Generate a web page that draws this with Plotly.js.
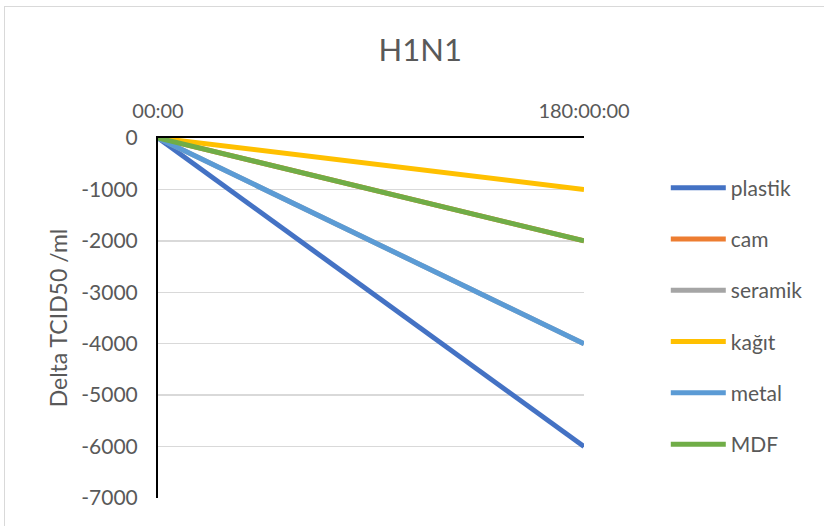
<!DOCTYPE html>
<html>
<head>
<meta charset="utf-8">
<script src="https://cdn.plot.ly/plotly-3.0.1.min.js"></script>
<style>
  html, body { margin: 0; padding: 0; background: #fff; overflow: hidden; }
  #frame { position: absolute; left: 4px; top: 6px; width: 900px; height: 600px; border: 1.5px solid #D9D9D9; box-sizing: border-box; }
  #chart { position: absolute; left: 0; top: 0; width: 824px; height: 526px; }
</style>
</head>
<body>
<div id="frame"></div>
<div id="chart"></div>
<script>
const categories = ["00:00", "180:00:00"];
const seriesNames = ["plastik", "cam", "seramik", "kağıt", "metal", "MDF"];
const plastik = [0, -6000];
const cam = [0, -2000];
const seramik = [0, -4000];
const kagit = [0, -1000];
const metal = [0, -4000];
const MDF = [0, -2000];
const seriesValues = [plastik, cam, seramik, kagit, metal, MDF];
const colors = ["#4472C4", "#ED7D31", "#A5A5A5", "#FFC000", "#5B9BD5", "#70AD47"];
const yTicks = [0, -1000, -2000, -3000, -4000, -5000, -6000, -7000];

const font = "Lato, 'Open Sans', sans-serif";
const textColor = "#595959";

const traces = seriesNames.map((name, i) => ({
  type: "scatter",
  mode: "lines",
  name: name,
  x: categories,
  y: seriesValues[i],
  legendgroup: "g" + i,
  line: { color: colors[i], width: 5 },
  hoverinfo: "skip"
}));

const layout = {
  width: 824,
  height: 526,
  paper_bgcolor: "rgba(0,0,0,0)",
  plot_bgcolor: "rgba(0,0,0,0)",
  margin: { l: 158, r: 240, t: 138, b: 28, pad: 0 },
  title: {
    text: "H1N1",
    font: { family: font, size: 31, color: textColor },
    x: 0.51, xanchor: "center",
    y: 0.905, yanchor: "middle"
  },
  xaxis: {
    type: "category",
    side: "top",
    range: [0, 1],
    showgrid: false,
    zeroline: false,
    showline: true,
    linecolor: "#000",
    linewidth: 2,
    ticks: "",
    tickfont: { family: font, size: 20, color: textColor },
    ticklabelstandoff: 10,
    fixedrange: true
  },
  yaxis: {
    range: [-7000, 0],
    tickvals: yTicks,
    ticktext: yTicks.map(String),
    showgrid: true,
    gridcolor: "#D9D9D9",
    gridwidth: 1.5,
    zeroline: false,
    showline: true,
    linecolor: "#000",
    linewidth: 2,
    ticks: "",
    tickfont: { family: font, size: 21, color: textColor },
    ticklabelstandoff: 14,
    title: { text: "Delta TCID50 /ml", font: { family: font, size: 23, color: textColor }, standoff: 7 },
    fixedrange: true
  },
  showlegend: true,
  legend: {
    x: 1.192, xanchor: "left",
    y: 0.918, yanchor: "top",
    font: { family: font, size: 21, color: textColor },
    tracegroupgap: 21,
    itemwidth: 55,
    bgcolor: "rgba(0,0,0,0)"
  }
};

Plotly.newPlot("chart", traces, layout, { displayModeBar: false, staticPlot: true });
</script>
</body>
</html>
